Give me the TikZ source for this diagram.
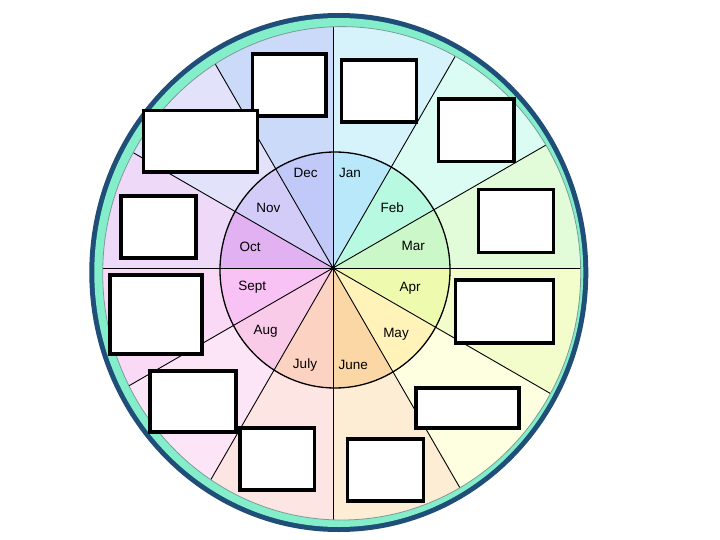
\documentclass[tikz,border=0pt]{standalone}
\usepackage{fontspec}
\setmainfont{Liberation Sans}
\definecolor{ringdark}{HTML}{1F4E78}
\definecolor{ringteal}{HTML}{84EECB}
\definecolor{ringgrey}{HTML}{7A9C98}
\definecolor{janO}{HTML}{D6F3FC}\definecolor{janI}{HTML}{B9E8FB}
\definecolor{febO}{HTML}{DAFCF2}\definecolor{febI}{HTML}{B8F9E2}
\definecolor{marO}{HTML}{E2FCDA}\definecolor{marI}{HTML}{CBF7C9}
\definecolor{aprO}{HTML}{F3FCCB}\definecolor{aprI}{HTML}{EEFBAE}
\definecolor{mayO}{HTML}{FEFEE0}\definecolor{mayI}{HTML}{FFF3BA}
\definecolor{junO}{HTML}{FEEDD5}\definecolor{junI}{HTML}{FCD7A6}
\definecolor{julO}{HTML}{FDE5E3}\definecolor{julI}{HTML}{FCD2C2}
\definecolor{augO}{HTML}{FCE5F6}\definecolor{augI}{HTML}{F9CBE9}
\definecolor{sepO}{HTML}{F9D9F5}\definecolor{sepI}{HTML}{F9C2F5}
\definecolor{octO}{HTML}{EFD9F8}\definecolor{octI}{HTML}{E1B1F1}
\definecolor{novO}{HTML}{E2E2FA}\definecolor{novI}{HTML}{D4CCF8}
\definecolor{decO}{HTML}{CBDAF8}\definecolor{decI}{HTML}{C1C9F8}
\begin{document}
\begin{tikzpicture}[x=1pt,y=-1pt,
  lbl/.style={font=\fontsize{13.5}{16}\selectfont, inner sep=0pt},
  box/.style={draw=black, line width=3.5pt, fill=white, inner sep=0pt},
  spoke/.style={line width=0.9pt, black}]
\useasboundingbox (0,0) rectangle (720,540);
\fill[white] (0,0) rectangle (720,540);
\coordinate (C) at (333,268);
% outer ring
\fill[ringdark] (338.8,272.5) ellipse [x radius=249.5, y radius=259.5];
\fill[ringteal] (338.8,272.5) ellipse [x radius=244.5, y radius=254.5];
\begin{scope}
  \clip (341.7,273.3) ellipse [x radius=239, y radius=246.7];
  \foreach \a/\c in {-90/janO,-60/febO,-30/marO,0/aprO,30/mayO,60/junO,90/julO,120/augO,150/sepO,180/octO,210/novO,240/decO}
    \fill[\c] (C) -- ++(\a:600) arc[start angle=\a, end angle=\a+30, radius=600] -- cycle;
  \begin{scope}
    \clip (335,270) ellipse [x radius=115, y radius=118];
    \foreach \a/\c in {-90/janI,-60/febI,-30/marI,0/aprI,30/mayI,60/junI,90/julI,120/augI,150/sepI,180/octI,210/novI,240/decI}
      \fill[\c] (C) -- ++(\a:600) arc[start angle=\a, end angle=\a+30, radius=600] -- cycle;
  \end{scope}
  \foreach \a in {0,30,...,330}
    \draw[spoke] (C) -- ++(\a:600);
\end{scope}
\draw[ringgrey, line width=0.8pt] (341.7,273.3) ellipse [x radius=239, y radius=246.7];
\draw[black, line width=1.3pt] (335,270) ellipse [x radius=115, y radius=118];
\fill[black] (C) circle (2.2);
% month labels
\node[lbl] (lJan) at (350,173.3) {Jan};
\node[lbl] (lFeb) at (392.3,207.7) {Feb};
\node[lbl] (lMar) at (413.3,245.7) {Mar};
\node[lbl] (lApr) at (410,288.3) {Apr};
\node[lbl] (lMay) at (396,334.3) {May};
\node[lbl] (lJun) at (353.3,365) {June};
\node[lbl] (lJul) at (305,365) {July};
\node[lbl] (lAug) at (265.7,331.7) {Aug};
\node[lbl] (lSep) at (252.3,287.3) {Sept};
\node[lbl] (lOct) at (250,246.7) {Oct};
\node[lbl] (lNov) at (268.3,207.7) {Nov};
\node[lbl] (lDec) at (305.7,173.3) {Dec};
% boxes
\node[box, minimum width=73.7, minimum height=62] (bDec) at (289.2,85) {};
\node[box, minimum width=75, minimum height=62] (bJan) at (379.2,91) {};
\node[box, minimum width=75.7, minimum height=62.5] (bFeb) at (476.2,130.2) {};
\node[box, minimum width=75, minimum height=63] (bMar) at (515.8,221.2) {};
\node[box, minimum width=97.6, minimum height=63] (bApr) at (504.5,311.5) {};
\node[box, minimum width=103, minimum height=40] (bMay) at (467.5,408) {};
\node[box, minimum width=75.6, minimum height=62] (bJun) at (385.5,470) {};
\node[box, minimum width=74.3, minimum height=61.7] (bJul) at (277.2,458.9) {};
\node[box, minimum width=86, minimum height=61] (bAug) at (193,401.5) {};
\node[box, minimum width=91.7, minimum height=79] (bSep) at (155.9,314.5) {};
\node[box, minimum width=75, minimum height=62] (bOct) at (158.5,226.9) {};
\node[box, minimum width=114.4, minimum height=61.2] (bNov) at (200.5,141.2) {};
\end{tikzpicture}
\end{document}
